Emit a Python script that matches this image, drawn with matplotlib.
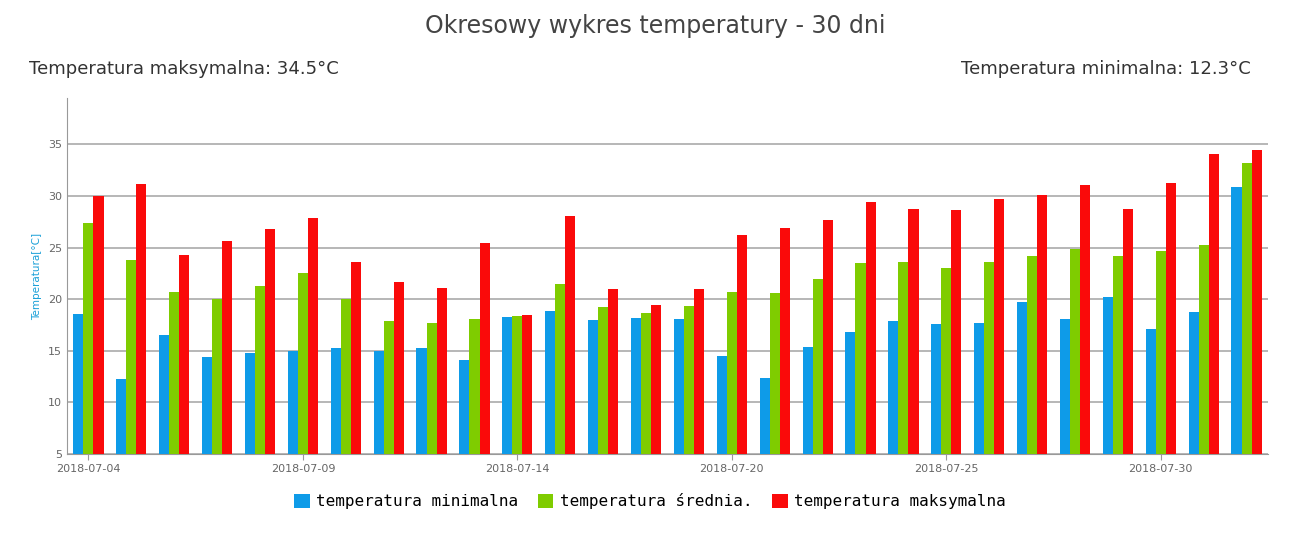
import matplotlib.pyplot as plt
import numpy as np

dates = ["2018-07-04", "2018-07-05", "2018-07-06", "2018-07-07", "2018-07-08",
         "2018-07-09", "2018-07-10", "2018-07-11", "2018-07-12", "2018-07-13",
         "2018-07-14", "2018-07-15", "2018-07-16", "2018-07-18", "2018-07-19",
         "2018-07-20", "2018-07-21", "2018-07-22", "2018-07-23", "2018-07-24",
         "2018-07-25", "2018-07-26", "2018-07-27", "2018-07-28", "2018-07-29",
         "2018-07-30", "2018-07-31", "2018-08-01"]
t_min = [18.6, 12.3, 16.5, 14.4, 14.8, 15.0, 15.3, 15.0, 15.3, 14.1,
         18.3, 18.9, 18.0, 18.2, 18.1, 14.5, 12.4, 15.4, 16.8, 17.9,
         17.6, 17.7, 19.7, 18.1, 20.2, 17.1, 18.8, 30.9]
t_avg = [27.4, 23.8, 20.7, 20.0, 21.3, 22.5, 20.0, 17.9, 17.7, 18.1,
         18.4, 21.5, 19.2, 18.7, 19.3, 20.7, 20.6, 22.0, 23.5, 23.6,
         23.0, 23.6, 24.2, 24.9, 24.2, 24.7, 25.3, 33.2]
t_max = [30.0, 31.2, 24.3, 25.6, 26.8, 27.9, 23.6, 21.7, 21.1, 25.4,
         18.5, 28.1, 21.0, 19.4, 21.0, 26.2, 26.9, 27.7, 29.4, 28.7,
         28.6, 29.7, 30.1, 31.1, 28.7, 31.3, 34.1, 34.5]

fig = plt.figure(figsize=(13.1, 5.48), dpi=100)
ax = fig.add_axes([67/1310, 1-454/548, (1268-67)/1310, (454-98)/548])

x = np.arange(len(dates))
w = 0.235
ax.bar(x - w, t_min, w, color="#0e9be8", label="temperatura minimalna", zorder=3)
ax.bar(x, t_avg, w, color="#7fcc00", label="temperatura średnia.", zorder=3)
ax.bar(x + w, t_max, w, color="#fa0a0a", label="temperatura maksymalna", zorder=3)

ax.set_ylim(5, 39.5)
ax.set_xlim(-0.5, len(dates) - 0.5)
ax.set_yticks([5, 10, 15, 20, 25, 30, 35])
ax.set_xticks(x[::5])
ax.set_xticklabels([dates[i] for i in range(0, len(dates), 5)])
ax.tick_params(labelsize=8, colors="#666666", length=0)
ax.tick_params(axis="x", length=4, color="#999999")
ax.grid(axis="y", color="#aaaaaa", linewidth=1.2, zorder=0)
for s in ["top", "right"]:
    ax.spines[s].set_visible(False)
for s in ["left", "bottom"]:
    ax.spines[s].set_color("#999999")
ax.set_ylabel("Temperatura[°C]", color="#1aa0d8", fontsize=7.5, labelpad=4)

fig.text(0.5, 0.94, "Okresowy wykres temperatury - 30 dni", ha="center", fontsize=17, color="#444444")
fig.text(0.022, 0.865, "Temperatura maksymalna: 34.5°C", fontsize=13, color="#333333")
fig.text(0.955, 0.865, "Temperatura minimalna: 12.3°C", fontsize=13, color="#333333", ha="right")

fig.legend(loc="center", bbox_to_anchor=(0.496, 0.085), ncol=3, frameon=False,
           prop={"family": "DejaVu Sans Mono", "size": 11.5},
           handlelength=1.0, handleheight=1.0, handletextpad=0.4, columnspacing=1.2)

fig.savefig("out.png")
